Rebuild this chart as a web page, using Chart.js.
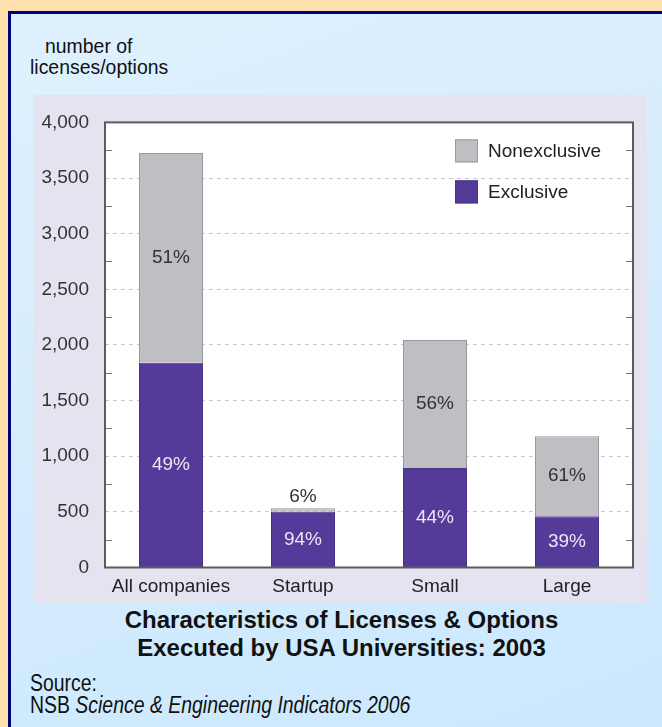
<!DOCTYPE html>
<html><head><meta charset="utf-8">
<script src="https://cdn.jsdelivr.net/npm/chart.js@4.4.1/dist/chart.umd.min.js"></script>
<style>
html,body{margin:0;padding:0;}
body{width:662px;height:727px;background:#fde0ac;position:relative;overflow:hidden;font-family:"Liberation Sans",Arial,sans-serif;}
#panel{position:absolute;left:8px;top:11px;width:660px;height:720px;border-left:3px solid #00007a;border-top:3px solid #00007a;background:linear-gradient(160deg,#def1fe 0%,#cbe8fd 100%);}
#wrap{position:absolute;left:33px;top:95px;width:614px;height:509px;background:#e6e3f1;}
.txt{position:absolute;white-space:nowrap;color:#111;line-height:1;transform-origin:0 0;}
.ctr{transform-origin:50% 0;text-align:center;}
</style></head>
<body>
<div id="panel"></div>
<div class="txt" style="left:45px;top:35px;font-size:21px;transform:scaleX(0.925)">number of</div>
<div class="txt" style="left:30px;top:56px;font-size:21px;transform:scaleX(0.925)">licenses/options</div>
<div id="wrap"><canvas id="c" width="614" height="509"></canvas></div>
<div class="txt ctr" style="left:0;width:683px;top:608px;font-size:24px;font-weight:bold;">Characteristics of Licenses &amp; Options</div>
<div class="txt ctr" style="left:0;width:683px;top:636px;font-size:24px;font-weight:bold;">Executed by USA Universities: 2003</div>
<div class="txt" style="left:30px;top:672px;font-size:23px;transform:scaleX(0.845)">Source:</div>
<div class="txt" style="left:30px;top:694px;font-size:23px;transform:scaleX(0.845)">NSB <i>Science &amp; Engineering Indicators 2006</i></div>
<script>
const categories = ['All companies', 'Startup', 'Small', 'Large'];
const exclusive = [1840, 500, 895, 460];
const nonexclusive = [1885, 32, 1150, 720];
const exclusivePct = ['49%', '94%', '44%', '39%'];
const nonexclusivePct = ['51%', '6%', '56%', '61%'];
const seriesNames = ['Exclusive', 'Nonexclusive'];
const yMin = 0, yMax = 4000, yStep = 500;

const FONT = '"Liberation Sans", Arial, sans-serif';
const PURPLE = '#553b99';
const GRAY = '#bebec3';

const decor = {
  id: 'decor',
  beforeDraw(chart) {
    const {ctx, chartArea: a} = chart;
    ctx.save();
    ctx.fillStyle = '#ffffff';
    ctx.fillRect(a.left, a.top, a.right - a.left, a.bottom - a.top);
    ctx.restore();
  },
  afterDatasetsDraw(chart) {
    const {ctx, chartArea: a} = chart;
    const ys = chart.scales.y;
    ctx.save();
    // inward minor ticks
    ctx.strokeStyle = '#7a7a7e';
    ctx.lineWidth = 1;
    for (let v = yMin + yStep / 2; v < yMax; v += yStep) {
      const py = Math.round(ys.getPixelForValue(v)) + 0.5;
      ctx.beginPath();
      ctx.moveTo(a.left, py); ctx.lineTo(a.left + 7, py);
      ctx.moveTo(a.right, py); ctx.lineTo(a.right - 7, py);
      ctx.stroke();
    }
    // frame
    ctx.strokeStyle = '#5c5c60';
    ctx.lineWidth = 2;
    ctx.strokeRect(a.left, a.top, a.right - a.left, a.bottom - a.top);
    // percent labels
    ctx.font = '19px ' + FONT;
    ctx.textAlign = 'center';
    ctx.textBaseline = 'middle';
    const pcts = [exclusivePct, nonexclusivePct];
    chart.data.datasets.forEach((ds, di) => {
      chart.getDatasetMeta(di).data.forEach((el, i) => {
        const h = Math.abs(el.base - el.y);
        let ty, col;
        if (h < 20) { ty = el.y - 12; col = '#333'; }
        else { ty = (el.y + el.base) / 2; col = di === 0 ? '#ebe7f6' : '#333'; }
        ctx.fillStyle = col;
        ctx.fillText(pcts[di][i], el.x, ty);
      });
    });
    // legend
    const lx = a.right - 178, ly = a.top + 17;
    const items = [[seriesNames[1], GRAY, '#9a9aa0'], [seriesNames[0], PURPLE, '#4a3388']];
    ctx.textAlign = 'left';
    items.forEach((it, k) => {
      const y0 = ly + k * 41;
      ctx.fillStyle = it[1];
      ctx.fillRect(lx, y0, 23, 23);
      ctx.strokeStyle = it[2];
      ctx.lineWidth = 1;
      ctx.strokeRect(lx + 0.5, y0 + 0.5, 22, 22);
      ctx.fillStyle = '#222';
      ctx.fillText(it[0], lx + 33, y0 + 12);
    });
    ctx.restore();
  }
};

new Chart(document.getElementById('c'), {
  type: 'bar',
  data: {
    labels: categories,
    datasets: [
      {label: seriesNames[0], data: exclusive, backgroundColor: PURPLE, borderColor: '#4a3388', borderWidth: 1, barPercentage: 0.485, categoryPercentage: 1},
      {label: seriesNames[1], data: nonexclusive, backgroundColor: GRAY, borderColor: '#98989e', borderWidth: 1, barPercentage: 0.485, categoryPercentage: 1}
    ]
  },
  options: {
    responsive: false,
    animation: false,
    devicePixelRatio: 1,
    layout: {padding: {top: 14, right: 14, left: 0, bottom: 0}},
    plugins: {legend: {display: false}, tooltip: {enabled: false}},
    scales: {
      x: {
        stacked: true,
        grid: {display: false, drawTicks: false},
        border: {display: false},
        ticks: {padding: 8, color: '#222', font: {size: 19, family: FONT}},
        afterFit: s => { s.height = 36.5; }
      },
      y: {
        stacked: true,
        min: yMin, max: yMax,
        grid: {drawTicks: false, lineWidth: 1,
          color: c => (c.tick && (c.tick.value === yMin || c.tick.value === yMax)) ? 'rgba(0,0,0,0)' : '#c8c8cc'},
        border: {display: false, dash: [4, 4]},
        ticks: {stepSize: yStep, padding: 16, color: '#333', font: {size: 19, family: FONT},
          callback: v => Number(v).toLocaleString('en-US')},
        afterFit: s => { s.width = 72; }
      }
    }
  },
  plugins: [decor]
});
</script>
</body></html>
